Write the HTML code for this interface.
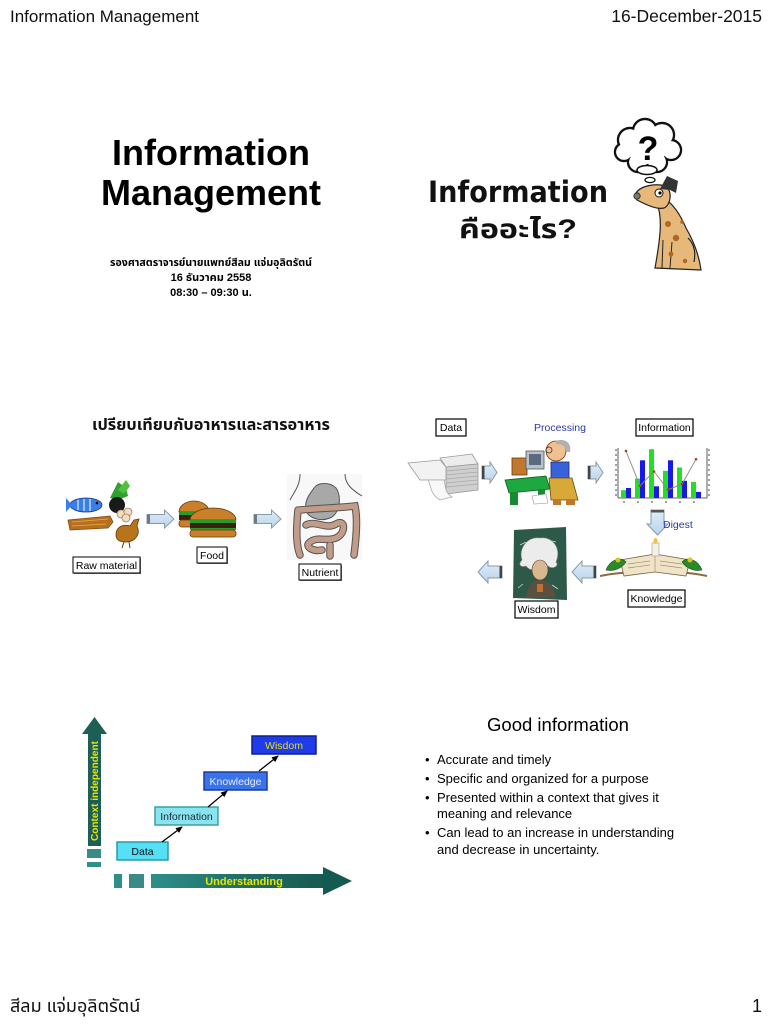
<!DOCTYPE html>
<html>
<head>
<meta charset="utf-8">
<style>
html,body{margin:0;padding:0;background:#fff;width:770px;height:1024px;overflow:hidden;}
svg{display:block;}
.t{font-family:"Liberation Sans","DejaVu Sans","Noto Sans Thai","Loma","Garuda","Tahoma",sans-serif;}
.d{font-family:"DejaVu Sans","Liberation Sans","Noto Sans Thai","Loma","Garuda",sans-serif;}
</style>
</head>
<body>
<svg width="770" height="1024" viewBox="0 0 770 1024" xmlns="http://www.w3.org/2000/svg">
<defs>
  <marker id="ah" markerWidth="8" markerHeight="8" refX="6" refY="3" orient="auto" markerUnits="userSpaceOnUse">
    <path d="M0,0 L7,3 L0,6 Z" fill="#000"/>
  </marker>
  <linearGradient id="hg" x1="0" x2="1" y1="0" y2="0">
    <stop offset="0" stop-color="#2f8e8a"/>
    <stop offset="0.5" stop-color="#1f7068"/>
    <stop offset="1" stop-color="#175a50"/>
  </linearGradient>
  <linearGradient id="ag" x1="0" x2="0" y1="0" y2="1">
    <stop offset="0" stop-color="#dfeefa"/>
    <stop offset="1" stop-color="#b9d3ea"/>
  </linearGradient>
</defs>

<!-- Header -->
<text class="t" x="10" y="22" font-size="17" fill="#111">Information Management</text>
<text class="t" x="762" y="22" font-size="17.5" fill="#111" text-anchor="end">16-December-2015</text>

<!-- Slide 1 -->
<text class="t" x="211" y="165" font-size="36" font-weight="bold" text-anchor="middle" fill="#000">Information</text>
<text class="t" x="211" y="205" font-size="36" font-weight="bold" text-anchor="middle" fill="#000">Management</text>
<text class="t" x="211" y="266" font-size="11" font-weight="bold" text-anchor="middle" fill="#000" textLength="202" lengthAdjust="spacingAndGlyphs">รองศาสตราจารย์นายแพทย์สีลม แจ่มอุลิตรัตน์</text>
<text class="t" x="211" y="281" font-size="11" font-weight="bold" text-anchor="middle" fill="#000">16 ธันวาคม 2558</text>
<text class="t" x="211" y="296" font-size="11" font-weight="bold" text-anchor="middle" fill="#000">08:30 – 09:30 น.</text>

<!-- Slide 2 -->
<text class="d" x="518" y="202" font-size="29" font-weight="bold" text-anchor="middle" fill="#111" textLength="180" lengthAdjust="spacingAndGlyphs">Information</text>
<text class="t" x="518" y="238" font-size="27" font-weight="bold" text-anchor="middle" fill="#111" textLength="118" lengthAdjust="spacingAndGlyphs">คืออะไร?</text>

<!-- thought cloud -->
<g stroke="#111" stroke-width="2.4" fill="#fff">
  <circle cx="630" cy="140" r="12"/><circle cx="645" cy="131" r="12"/><circle cx="662" cy="135" r="12"/>
  <circle cx="671" cy="150" r="10"/><circle cx="657" cy="162" r="10"/><circle cx="638" cy="162" r="10"/>
  <circle cx="624" cy="152" r="9"/>
</g>
<g fill="#fff">
  <circle cx="630" cy="140" r="10.8"/><circle cx="645" cy="131" r="10.8"/><circle cx="662" cy="135" r="10.8"/>
  <circle cx="671" cy="150" r="8.8"/><circle cx="657" cy="162" r="8.8"/><circle cx="638" cy="162" r="8.8"/>
  <circle cx="624" cy="152" r="7.8"/><ellipse cx="647" cy="148" rx="20" ry="16"/>
</g>
<text class="t" x="648" y="160" font-size="34" font-weight="bold" text-anchor="middle" fill="#000">?</text>
<ellipse cx="647" cy="170" rx="10" ry="4.5" fill="#fff" stroke="#111" stroke-width="1.5"/>
<ellipse cx="650" cy="180" rx="5" ry="2.6" fill="#fff" stroke="#111" stroke-width="1.3"/>
<!-- dog -->
<path d="M657,204 C663,218 660,240 655,268 L701,270 C699,255 693,240 686,228 C680,214 673,204 665,199 Z" fill="#e6b87a" stroke="#222" stroke-width="1.2"/>
<path d="M688,238 C694,244 696,252 694,262" fill="none" stroke="#222" stroke-width="1.2"/>
<path d="M663,240 L662,268 M672,242 L670,268" stroke="#222" stroke-width="1" fill="none"/>
<path d="M636,193 C640,186 655,183 665,186 C673,190 671,205 664,208 C656,210 645,204 637,200 Z" fill="#e6b87a" stroke="#222" stroke-width="1.2"/>
<circle cx="637" cy="196" r="3.2" fill="#777" stroke="#222" stroke-width="0.8"/>
<circle cx="659" cy="193" r="4" fill="#fff" stroke="#111" stroke-width="1"/>
<circle cx="660" cy="193" r="1.6" fill="#000"/>
<path d="M660,189 L667,176 L678,181 L676,193 L670,190 Z" fill="#333"/>
<circle cx="668" cy="224" r="3" fill="#b06820"/><circle cx="676" cy="238" r="3.2" fill="#b06820"/>
<circle cx="671" cy="254" r="2.4" fill="#b06820"/><circle cx="685" cy="261" r="2.2" fill="#b06820"/>
<circle cx="682" cy="222" r="1.8" fill="#b06820"/>

<!-- Slide 3 -->
<text class="t" x="211" y="430" font-size="16" font-weight="bold" text-anchor="middle" fill="#111" textLength="238" lengthAdjust="spacingAndGlyphs">เปรียบเทียบกับอาหารและสารอาหาร</text>
<!-- raw material cluster -->
<polygon points="68,520 110,516 113,522 108,528 70,530" fill="#b87020" stroke="#7a4a10" stroke-width="0.8"/>
<path d="M72,522 L108,519 M72,526 L106,524" stroke="#e0b040" stroke-width="0.8"/>
<polygon points="110,498 118,482 126,488 128,496 118,500" fill="#2f9f30"/>
<polygon points="118,490 126,480 130,486 124,494" fill="#50c040"/>
<ellipse cx="86" cy="505" rx="16" ry="7" fill="#3a7ee8" stroke="#1a3a90" stroke-width="0.8"/>
<polygon points="72,505 66,498 66,512" fill="#3a7ee8"/>
<path d="M78,500 L78,510 M84,499 L84,511 M90,499 L90,511" stroke="#dfefff" stroke-width="1.2"/>
<circle cx="97" cy="503" r="1.3" fill="#000"/>
<circle cx="117" cy="505" r="8" fill="#1a1a1a"/>
<circle cx="121" cy="514" r="4" fill="#f0dcc0" stroke="#a08060" stroke-width="0.8"/>
<circle cx="128" cy="512" r="4" fill="#f0dcc0" stroke="#a08060" stroke-width="0.8"/>
<circle cx="126" cy="518" r="4" fill="#f0dcc0" stroke="#a08060" stroke-width="0.8"/>
<path d="M116,535 C116,526 124,524 130,526 L134,520 L139,519 L137,526 C141,534 135,542 126,542 C120,542 116,540 116,535 Z" fill="#b8741a" stroke="#6a3a08" stroke-width="0.8"/>
<path d="M124,542 L122,548 M129,542 L130,548" stroke="#6a3a08" stroke-width="1"/>
<!-- arrows -->
<polygon points="147,514.5 164.5,514.5 164.5,510 174,519 164.5,528 164.5,523.5 147,523.5" fill="url(#ag)" stroke="#8a9aa8" stroke-width="1"/>
<rect x="147" y="514.5" width="3" height="9" fill="#707880"/>
<polygon points="254,514.5 271.5,514.5 271.5,510 281,519 271.5,528 271.5,523.5 254,523.5" fill="url(#ag)" stroke="#8a9aa8" stroke-width="1"/>
<rect x="254" y="514.5" width="3" height="9" fill="#707880"/>
<!-- burgers -->
<path d="M179,512 A15,11 0 0 1 209,512 Z" fill="#c8802a" stroke="#6a3a08" stroke-width="0.8"/>
<rect x="179" y="512" width="30" height="3" fill="#2a9a2a"/>
<rect x="179" y="515" width="30" height="5" fill="#3a2010"/>
<rect x="179" y="520" width="30" height="7" rx="3" fill="#c8802a" stroke="#6a3a08" stroke-width="0.8"/>
<path d="M190,520 A23,12 0 0 1 236,520 Z" fill="#c8802a" stroke="#6a3a08" stroke-width="0.8"/>
<rect x="190" y="520" width="46" height="3" fill="#2a9a2a"/>
<rect x="190" y="523" width="46" height="6" fill="#3a2010"/>
<rect x="190" y="528" width="46" height="2" fill="#2a9a2a"/>
<rect x="190" y="530" width="46" height="7" rx="3" fill="#c8802a" stroke="#6a3a08" stroke-width="0.8"/>
<!-- stomach -->
<rect x="287" y="474" width="75" height="86" fill="#f8f8f8"/>
<path d="M300,474 C300,486 294,492 290,500" fill="none" stroke="#555" stroke-width="1"/>
<path d="M345,474 C345,484 352,490 362,496" fill="none" stroke="#555" stroke-width="1"/>
<path d="M314,488 C318,482 330,482 336,488 C342,496 340,514 330,518 C320,522 308,518 306,510 C304,500 310,494 314,488 Z" fill="#a8a8a8" stroke="#555" stroke-width="1"/>
<path d="M298,510 C296,530 296,545 300,555 M300,510 C320,508 340,508 355,506 C358,520 356,540 354,555 M306,525 C316,520 326,530 336,524 C346,518 346,534 336,538 C326,542 318,536 310,542 C304,546 312,552 322,550 M330,556 L330,545" fill="none" stroke="#555" stroke-width="7.5" stroke-linecap="round"/>
<path d="M298,510 C296,530 296,545 300,555 M300,510 C320,508 340,508 355,506 C358,520 356,540 354,555 M306,525 C316,520 326,530 336,524 C346,518 346,534 336,538 C326,542 318,536 310,542 C304,546 312,552 322,550 M330,556 L330,545" fill="none" stroke="#c29c88" stroke-width="5.5" stroke-linecap="round"/>
<!-- labels -->
<rect x="74" y="558" width="67" height="16" fill="#777"/>
<rect x="73" y="557" width="67" height="16" fill="#fff" stroke="#000" stroke-width="1"/>
<text class="t" x="106.5" y="569" font-size="10.5" text-anchor="middle" fill="#000">Raw material</text>
<rect x="198" y="548" width="30" height="16" fill="#777"/>
<rect x="197" y="547" width="30" height="16" fill="#fff" stroke="#000" stroke-width="1"/>
<text class="t" x="212" y="559" font-size="10.5" text-anchor="middle" fill="#000">Food</text>
<rect x="300" y="565" width="42" height="16" fill="#777"/>
<rect x="299" y="564" width="42" height="16" fill="#fff" stroke="#000" stroke-width="1"/>
<text class="t" x="320" y="576" font-size="10.5" text-anchor="middle" fill="#000">Nutrient</text>

<!-- Slide 4 -->
<rect x="436" y="419" width="30" height="17" fill="#fff" stroke="#000" stroke-width="1.2"/>
<text class="t" x="451" y="431" font-size="10.5" text-anchor="middle" fill="#000">Data</text>
<text class="t" x="560" y="431" font-size="10.5" text-anchor="middle" fill="#2a3aa8">Processing</text>
<rect x="636" y="419" width="57" height="17" fill="#fff" stroke="#000" stroke-width="1.2"/>
<text class="t" x="664.5" y="431" font-size="10.5" text-anchor="middle" fill="#000">Information</text>
<!-- paper stack -->
<polygon points="440,458 472,454 478,464 446,467" fill="#ececec" stroke="#999" stroke-width="0.8"/>
<polygon points="446,467 478,464 478,490 446,494" fill="#cfcfcf" stroke="#999" stroke-width="0.8"/>
<path d="M446,471 L478,468 M446,475 L478,472 M446,479 L478,476 M446,483 L478,480 M446,487 L478,484" stroke="#a8a8a8" stroke-width="0.8"/>
<polygon points="408,463 440,460 446,467 446,480 420,480" fill="#f2f2f2" stroke="#999" stroke-width="0.8"/>
<path d="M428,480 C432,488 430,494 440,500 L452,497 C444,492 446,486 444,480 Z" fill="#f8f8f8" stroke="#aaa" stroke-width="0.8"/>
<!-- arrows -->
<polygon points="482,466 490,466 490,462 497,472.5 490,483 490,479 482,479" fill="url(#ag)" stroke="#8a9aa8" stroke-width="1"/>
<rect x="482" y="466" width="2.5" height="13" fill="#444"/>
<polygon points="588,466 596,466 596,462 603,472.5 596,483 596,479 588,479" fill="url(#ag)" stroke="#8a9aa8" stroke-width="1"/>
<rect x="588" y="466" width="2.5" height="13" fill="#444"/>
<!-- person at desk -->
<rect x="512" y="458" width="15" height="17" fill="#c07830" stroke="#6a3a08" stroke-width="0.8"/>
<rect x="526" y="451" width="18" height="18" fill="#b8c0c8" stroke="#555" stroke-width="0.8"/>
<rect x="529" y="454" width="12" height="11" fill="#5a6a80"/>
<polygon points="505,480 546,476 550,489 509,493" fill="#1ea840" stroke="#0a5a20" stroke-width="0.8"/>
<rect x="510" y="492" width="8" height="13" fill="#188a34"/>
<rect x="538" y="489" width="7" height="12" fill="#188a34"/>
<polygon points="532,496 546,494 548,503 534,504" fill="#fff" stroke="#999" stroke-width="0.6"/>
<circle cx="556" cy="451" r="10" fill="#f0c090" stroke="#6a3a08" stroke-width="0.8"/>
<path d="M556,441 C564,438 572,442 570,452 L566,452 C566,446 562,444 556,444 Z" fill="#b0b0b0"/>
<circle cx="549" cy="450" r="3" fill="none" stroke="#333" stroke-width="0.8"/>
<rect x="551" y="462" width="18" height="18" fill="#3a62d8" stroke="#1a2a80" stroke-width="0.8"/>
<polygon points="549,478 572,478 578,500 551,500" fill="#d8a838" stroke="#6a4a10" stroke-width="0.8"/>
<rect x="553" y="500" width="8" height="5" fill="#c07830"/><rect x="566" y="500" width="9" height="5" fill="#c07830"/>
<!-- chart -->
<g>
  <line x1="618" y1="448" x2="618" y2="498" stroke="#333" stroke-width="0.8"/>
  <line x1="707" y1="448" x2="707" y2="498" stroke="#333" stroke-width="0.8"/>
  <line x1="618" y1="498" x2="707" y2="498" stroke="#333" stroke-width="0.8"/>
  <rect x="621" y="490.2" width="5" height="7.8" fill="#22e022"/><rect x="626" y="488" width="5" height="10" fill="#1818e8"/>
  <rect x="635" y="478.6" width="5" height="19.4" fill="#22e022"/><rect x="640" y="460.3" width="5" height="37.7" fill="#1818e8"/>
  <rect x="649" y="449.2" width="5" height="48.8" fill="#22e022"/><rect x="654" y="486.3" width="5" height="11.7" fill="#1818e8"/>
  <rect x="663" y="470.8" width="5" height="27.2" fill="#22e022"/><rect x="668" y="460.3" width="5" height="37.7" fill="#1818e8"/>
  <rect x="677" y="467.5" width="5" height="30.5" fill="#22e022"/><rect x="682" y="480.8" width="5" height="17.2" fill="#1818e8"/>
  <rect x="691" y="481.9" width="5" height="16.1" fill="#22e022"/><rect x="696" y="491.9" width="5" height="6.1" fill="#1818e8"/>
  <polyline points="626,451 640,485.8 654,471.4 668,489.7 682,484.1 696,459.2" fill="none" stroke="#888" stroke-width="0.9"/>
  <g fill="#b04010"><circle cx="626" cy="451" r="1.3"/><circle cx="640" cy="485.8" r="1.3"/><circle cx="654" cy="471.4" r="1.3"/><circle cx="668" cy="489.7" r="1.3"/><circle cx="682" cy="484.1" r="1.3"/><circle cx="696" cy="459.2" r="1.3"/></g>
  <path d="M615,450 h2 M615,455 h2 M615,460 h2 M615,465 h2 M615,470 h2 M615,475 h2 M615,480 h2 M615,485 h2 M615,490 h2 M615,495 h2 M708,450 h2 M708,455 h2 M708,460 h2 M708,465 h2 M708,470 h2 M708,475 h2 M708,480 h2 M708,485 h2 M708,490 h2 M708,495 h2" stroke="#444" stroke-width="1"/>
  <path d="M624,501 v2 M638,501 v2 M652,501 v2 M666,501 v2 M680,501 v2 M694,501 v2" stroke="#444" stroke-width="1"/>
</g>
<!-- digest arrow -->
<polygon points="651,510 664,510 664,524 668,524 657.5,535 647,524 651,524" fill="url(#ag)" stroke="#8a9aa8" stroke-width="1"/>
<rect x="651" y="510" width="13" height="2.5" fill="#555"/>
<text class="t" x="663" y="528" font-size="10.5" fill="#2a3aa8">Digest</text>
<!-- book -->
<path d="M600,576 C630,570 680,570 707,576" fill="none" stroke="#8a6a40" stroke-width="2"/>
<polygon points="620,560 655,554 690,560 686,576 655,572 624,576" fill="#efe4c8" stroke="#7a6040" stroke-width="0.8"/>
<path d="M655,554 L655,572 M628,564 L650,561 M628,568 L650,565 M660,561 L682,564 M660,565 L682,568" stroke="#a89070" stroke-width="0.7"/>
<rect x="652" y="543" width="7" height="13" fill="#f4f0e4" stroke="#999" stroke-width="0.6"/>
<ellipse cx="655.5" cy="541" rx="2" ry="3" fill="#f0c040"/>
<path d="M606,570 C610,560 620,556 626,562 C622,568 614,572 606,570 Z" fill="#2a8a2a" stroke="#145014" stroke-width="0.6"/>
<path d="M702,570 C698,560 688,556 682,562 C686,568 694,572 702,570 Z" fill="#2a8a2a" stroke="#145014" stroke-width="0.6"/>
<circle cx="618" cy="560" r="2.5" fill="#e0c020"/><circle cx="690" cy="560" r="2.5" fill="#e0c020"/>
<!-- left arrows -->
<polygon points="596,566 582,566 582,561 572,572 582,583 582,578 596,578" fill="url(#ag)" stroke="#8a9aa8" stroke-width="1"/>
<rect x="593.5" y="566" width="2.5" height="12" fill="#444"/>
<polygon points="502,566 488,566 488,561 478,572 488,583 488,578 502,578" fill="url(#ag)" stroke="#8a9aa8" stroke-width="1"/>
<rect x="499.5" y="566" width="2.5" height="12" fill="#444"/>
<!-- einstein -->
<polygon points="514,530 566,527 567,600 513,598" fill="#2d5a48"/>
<path d="M520,545 l6,-3 M548,540 l8,2 M552,585 l6,4 M518,588 l5,-4" stroke="#cfd8d0" stroke-width="0.8"/>
<path d="M522,560 C518,548 528,536 540,538 C552,536 562,548 556,562 C560,566 552,570 548,566 C544,572 530,572 526,566 C520,568 518,564 522,560 Z" fill="#ececec" stroke="#888" stroke-width="0.6"/>
<ellipse cx="540" cy="570" rx="8" ry="10" fill="#d8b890" stroke="#5a4030" stroke-width="0.6"/>
<path d="M526,598 C528,584 534,580 540,580 C548,580 554,586 556,598 Z" fill="#5a5040"/>
<rect x="537" y="584" width="6" height="8" fill="#c07030"/>
<!-- label boxes -->
<rect x="628" y="590" width="57" height="17" fill="#fff" stroke="#000" stroke-width="1.2"/>
<text class="t" x="656.5" y="602" font-size="10.5" text-anchor="middle" fill="#000">Knowledge</text>
<rect x="515" y="601" width="43" height="17" fill="#fff" stroke="#000" stroke-width="1.2"/>
<text class="t" x="536.5" y="613" font-size="10.5" text-anchor="middle" fill="#000">Wisdom</text>

<!-- Slide 5 -->
<polygon points="82,734 94.5,717 107,734 101,734 101,846 88,846 88,734" fill="#1d5e55"/>
<text class="t" x="0" y="0" font-size="10.5" font-weight="bold" fill="#e6e600" text-anchor="middle" transform="translate(98,791) rotate(-90)" textLength="100" lengthAdjust="spacingAndGlyphs">Context independent</text>
<rect x="87" y="849" width="14" height="9" fill="#3a8a86"/>
<rect x="87" y="862" width="14" height="5" fill="#2f8e8a"/>
<rect x="114" y="874" width="8" height="14" fill="#2f8e8a"/>
<rect x="129" y="874" width="15" height="14" fill="#3a8a86"/>
<rect x="151" y="874" width="173" height="14" fill="url(#hg)"/>
<polygon points="323,867 352,881 323,895" fill="#155a50"/>
<text class="t" x="244" y="885" font-size="11" font-weight="bold" text-anchor="middle" fill="#e6e600">Understanding</text>
<!-- boxes -->
<rect x="117" y="842" width="51" height="18" fill="#55e0f5" stroke="#2a9aa8" stroke-width="1.5"/>
<text class="t" x="142.5" y="855" font-size="10.5" text-anchor="middle" fill="#111">Data</text>
<rect x="155" y="807" width="63" height="18" fill="#8ae4ee" stroke="#3aa0a8" stroke-width="1.5"/>
<text class="t" x="186.5" y="820" font-size="10.5" text-anchor="middle" fill="#1a2a40">Information</text>
<rect x="204" y="772" width="63" height="18" fill="#3a72ec" stroke="#1a3aa0" stroke-width="1.5"/>
<text class="t" x="235.5" y="785" font-size="10.5" text-anchor="middle" fill="#e4ecff">Knowledge</text>
<rect x="252" y="736" width="64" height="18" fill="#1e3ce8" stroke="#101f90" stroke-width="1.5"/>
<text class="t" x="284" y="749" font-size="10.5" text-anchor="middle" fill="#e8e000">Wisdom</text>
<g stroke="#000" stroke-width="1.3" marker-end="url(#ah)">
  <line x1="162" y1="842" x2="182" y2="827"/>
  <line x1="208" y1="807" x2="227" y2="791"/>
  <line x1="259" y1="771" x2="278" y2="756"/>
</g>

<!-- Slide 6 -->
<text class="t" x="558" y="731" font-size="18.5" text-anchor="middle" fill="#000">Good information</text>
<g class="t" font-size="13" fill="#000">
  <text x="425" y="764">•</text><text x="437" y="764">Accurate and timely</text>
  <text x="425" y="783">•</text><text x="437" y="783">Specific and organized for a purpose</text>
  <text x="425" y="802">•</text><text x="437" y="802">Presented within a context that gives it</text>
  <text x="437" y="818">meaning and relevance</text>
  <text x="425" y="837">•</text><text x="437" y="837">Can lead to an increase in understanding</text>
  <text x="437" y="854">and decrease in uncertainty.</text>
</g>

<!-- Footer -->
<text class="t" x="10" y="1012" font-size="18" fill="#111">สีลม แจ่มอุลิตรัตน์</text>
<text class="t" x="762" y="1012" font-size="18" fill="#111" text-anchor="end">1</text>
</svg>
</body>
</html>
